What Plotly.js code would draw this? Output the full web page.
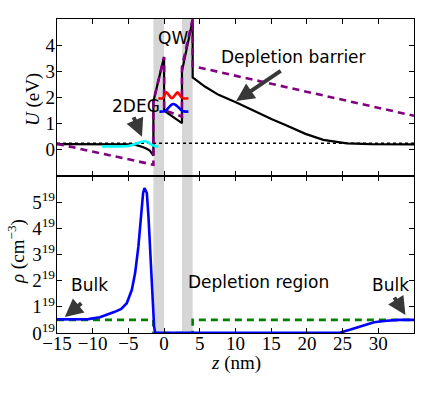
<!DOCTYPE html>
<html>
<head>
<meta charset="utf-8">
<script src="https://cdn.plot.ly/plotly-3.0.1.min.js"></script>
<style>
  html, body { margin: 0; padding: 0; background: #fff; }
  #plot { width: 436px; height: 393px; }
</style>
</head>
<body>
<div id="plot"></div>
<script>
// potential profile U(z), eV
const uZ = [-15, -8, -6, -5, -4.5, -4, -3.5, -3, -2.5, -2, -1.5, -1.5, 0, 0, 2.5, 2.5, 4, 4,
  5.76, 7.63, 10.2, 12.3, 15.1, 17, 19.8, 22.3, 25.6, 28.9, 32, 35];
const uVal = [0.22, 0.22, 0.22, 0.22, 0.21, 0.19, 0.16, 0.11, 0.05, -0.03, -0.22, 1.85, 3.55, 1.5, 1.02, 3.0, 4.95, 2.77,
  2.41, 2.10, 1.80, 1.52, 1.17, 0.95, 0.61, 0.38, 0.25, 0.22, 0.21, 0.21];

// band edge without charge (purple dashed)
const bareZ = [-15, -1.5, -1.5, 0, 0, 2.5, 2.5, 4, 4, 35];
const bareVal = [0.23, -0.57, 1.85, 3.55, 1.52, 1.27, 3.17, 5.0, 3.2, 1.3];

// fermi level
const fermiZ = [-15, 35];
const fermiVal = [0.25, 0.25];

// 2DEG wavefunction
const degZ = [-8.7, -6, -5, -4.3, -3.6, -2.9, -2.66, -2.3, -1.72, -1.2, -0.8];
const degVal = [0.13, 0.13, 0.15, 0.2, 0.27, 0.32, 0.33, 0.29, 0.19, 0.14, 0.13];

// QW states
const qw2Z = [-0.8, -0.2, 0.0, 0.3, 0.7, 1.08, 1.5, 1.9, 2.3, 2.7, 3.4];
const qw2Val = [1.97, 1.97, 2.05, 2.2, 2.08, 1.97, 2.08, 2.2, 2.05, 1.97, 1.97];
const qw1Z = [-0.65, 0, 0.3, 0.7, 1.0, 1.3, 1.6, 2.0, 2.4, 2.8, 3.4];
const qw1Val = [1.46, 1.47, 1.52, 1.63, 1.72, 1.75, 1.72, 1.63, 1.52, 1.47, 1.46];

// charge density, units of 1e19 cm^-3
const rhoZ = [-15, -12, -10.6, -9, -8.3, -7, -6, -5.23, -4.52, -4.06, -3.6, -3.22, -2.94, -2.75, -2.42, -2.19,
  -1.96, -1.77, -1.58, -1.4, -1.25, 24, 24.7, 26, 27.5, 28.5, 29.4, 31.2, 33, 35];
const rhoVal = [0.52, 0.52, 0.53, 0.6, 0.66, 0.8, 0.92, 1.14, 1.65, 2.29, 3.31, 4.46, 5.35, 5.54, 5.35, 4.46,
  3.31, 2.16, 1.0, 0.24, 0.01, 0, 0.02, 0.12, 0.24, 0.33, 0.41, 0.47, 0.5, 0.5];

const dopZ = [-15, -1.5, -1.5, 4, 4, 35];
const dopVal = [0.5, 0.5, 0, 0, 0.5, 0.5];

// barrier layers
const barriers = [[-1.5, 0], [2.5, 4]];

const rhoTicks = [0, 1, 2, 3, 4, 5];
const rhoTickText = rhoTicks.map(v => v + "<sup>19</sup>");
const zTicks = [-15, -10, -5, 0, 5, 10, 15, 20, 25, 30];

const tickFont = { family: "Liberation Serif", size: 19, color: "#000" };
const labelFont = { family: "DejaVu Sans", size: 17, color: "#000" };

const traces = [
  { x: fermiZ, y: fermiVal, xaxis: "x", yaxis: "y", mode: "lines", line: { color: "#000", width: 1.5, dash: "dot" } },
  { x: uZ, y: uVal, xaxis: "x", yaxis: "y", mode: "lines", line: { color: "#000", width: 2.2 } },
  { x: bareZ, y: bareVal, xaxis: "x", yaxis: "y", mode: "lines", line: { color: "#800080", width: 2.6, dash: "7px,5px" } },
  { x: degZ, y: degVal, xaxis: "x", yaxis: "y", mode: "lines", line: { color: "#00ffff", width: 2.6, shape: "spline" } },
  { x: qw2Z, y: qw2Val, xaxis: "x", yaxis: "y", mode: "lines", line: { color: "#ff0000", width: 2.6, shape: "spline" } },
  { x: qw1Z, y: qw1Val, xaxis: "x", yaxis: "y", mode: "lines", line: { color: "#0000ff", width: 2.6, shape: "spline" } },
  { x: dopZ, y: dopVal, xaxis: "x2", yaxis: "y2", mode: "lines", line: { color: "#008000", width: 2.6, dash: "7px,5px" } },
  { x: rhoZ, y: rhoVal, xaxis: "x2", yaxis: "y2", mode: "lines", line: { color: "#0000ff", width: 2.6 } }
];

const axBase = {
  showline: true, linecolor: "#000", linewidth: 1.2, mirror: "allticks",
  ticks: "inside", ticklen: 5, tickcolor: "#000", tickwidth: 1,
  showgrid: false, zeroline: false, tickfont: tickFont
};

const shapes = barriers.map(b => ({
  type: "rect", xref: "x", yref: "paper", x0: b[0], x1: b[1], y0: 0, y1: 1,
  fillcolor: "#d6d6d6", line: { width: 0 }, layer: "below"
}));

const arrow = (x, y, ax, ay, xr, yr) => ({
  x: x, y: y, xref: xr, yref: yr, ax: ax, ay: ay, text: "", showarrow: true,
  arrowhead: 2, arrowsize: 0.9, arrowwidth: 4, arrowcolor: "#383838"
});

const annotations = [
  { x: -4.0, y: 1.68, xref: "x", yref: "y", text: "2DEG", showarrow: false, font: labelFont },
  { x: 1.2, y: 4.29, xref: "x", yref: "y", text: "QW", showarrow: false, font: labelFont },
  { x: 18.1, y: 3.54, xref: "x", yref: "y", text: "Depletion barrier", showarrow: false, font: labelFont },
  { x: -10.4, y: 1.84, xref: "x2", yref: "y2", text: "Bulk", showarrow: false, font: labelFont },
  { x: 13.2, y: 1.95, xref: "x2", yref: "y2", text: "Depletion region", showarrow: false, font: labelFont },
  { x: 31.7, y: 1.84, xref: "x2", yref: "y2", text: "Bulk", showarrow: false, font: labelFont },
  arrow(-3.1, 0.5, -9, -21, "x", "y"),
  arrow(10.1, 1.87, 46, -31, "x", "y"),
  arrow(-13.9, 0.61, 18, -15, "x2", "y2"),
  arrow(33.8, 0.69, -12, -19, "x2", "y2"),
  { xref: "paper", yref: "paper", x: -0.067, y: 0.742, xanchor: "center", yanchor: "middle",
    text: "<i>U</i> (eV)", textangle: -90, showarrow: false, font: tickFont },
  { xref: "paper", yref: "paper", x: -0.112, y: 0.258, xanchor: "center", yanchor: "middle",
    text: "<i>ρ</i> (cm<sup>−3</sup>)", textangle: -90, showarrow: false, font: tickFont },
  { xref: "paper", yref: "paper", x: 0.5, y: -0.097, xanchor: "center", yanchor: "middle",
    text: "<i>z</i> (nm)", showarrow: false, font: tickFont }
];

const layout = {
  width: 436, height: 393,
  margin: { l: 57, r: 22, t: 19, b: 60 },
  paper_bgcolor: "#fff", plot_bgcolor: "rgba(0,0,0,0)",
  showlegend: false,
  xaxis: Object.assign({}, axBase, { domain: [0, 1], anchor: "y", range: [-15, 35], tickvals: zTicks, showticklabels: false }),
  yaxis: Object.assign({}, axBase, { domain: [0.5, 1], anchor: "x", range: [-1, 5], tickvals: [0, 1, 2, 3, 4], ticklabelstandoff: -3 }),
  xaxis2: Object.assign({}, axBase, { domain: [0, 1], anchor: "y2", range: [-15, 35], tickvals: zTicks, ticklabelstandoff: -7 }),
  yaxis2: Object.assign({}, axBase, { domain: [0, 0.5], anchor: "x2", range: [0, 6], tickvals: rhoTicks, ticktext: rhoTickText, ticklabelstandoff: -3 }),
  shapes: shapes,
  annotations: annotations
};

Plotly.newPlot("plot", traces, layout, { displayModeBar: false, staticPlot: true });
</script>
</body>
</html>
